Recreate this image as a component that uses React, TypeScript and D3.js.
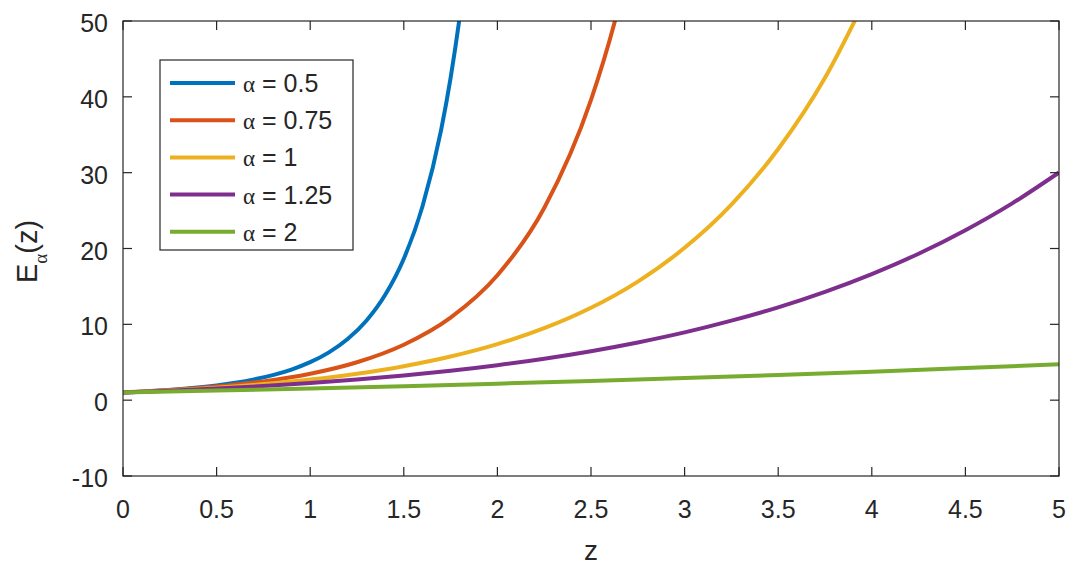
import { useEffect, useRef } from "react";
import * as d3 from "d3";

// Mittag-Leffler curves, values
const zHalf = [0, 0.1, 0.2, 0.3, 0.4, 0.5, 0.6, 0.7, 0.8, 0.9, 1.0, 1.1, 1.2, 1.3, 1.4, 1.5, 1.6, 1.7, 1.75, 1.8, 1.85];
const eHalf = [1, 1.124, 1.273, 1.454, 1.676, 1.952, 2.299, 2.739, 3.304, 4.039, 5.009, 6.305, 8.063, 10.48, 13.86, 18.65, 25.57, 35.7, 42.5, 50.8, 61.0];

const zQuarter = [0, 0.25, 0.5, 0.75, 1, 1.25, 1.5, 1.75, 2, 2.25, 2.5, 2.625, 2.75];
const eThreeQuarter = [1, 1.326, 1.794, 2.476, 3.486, 5.003, 7.31, 10.88, 16.47, 25.34, 39.6, 49.75, 62.8];

const zOne = [0, 0.25, 0.5, 0.75, 1, 1.25, 1.5, 1.75, 2, 2.25, 2.5, 2.75, 3, 3.25, 3.5, 3.75, 4];
const eOne = [1, 1.284, 1.649, 2.117, 2.718, 3.49, 4.482, 5.755, 7.389, 9.488, 12.18, 15.64, 20.09, 25.79, 33.12, 42.52, 54.6];

const zFull = [0, 0.25, 0.5, 0.75, 1, 1.25, 1.5, 1.75, 2, 2.25, 2.5, 2.75, 3, 3.25, 3.5, 3.75, 4, 4.25, 4.5, 4.75, 5];
const eOneQuarter = [1, 1.24, 1.525, 1.86, 2.253, 2.714, 3.254, 3.884, 4.617, 5.47, 6.46, 7.607, 8.934, 10.48, 12.24, 14.28, 16.62, 19.31, 22.41, 25.95, 30.02];

const zHalfStep = [0, 0.5, 1, 1.5, 2, 2.5, 3, 3.5, 4, 4.5, 5];
const eTwo = [1, 1.261, 1.543, 1.849, 2.178, 2.533, 2.915, 3.324, 3.762, 4.231, 4.731];

const seriesLabels = ["0.5", "0.75", "1", "1.25", "2"];
const seriesColors = ["#0072BD", "#D95319", "#EDB120", "#7E2F8E", "#77AC30"];

const xTicks = [0, 0.5, 1, 1.5, 2, 2.5, 3, 3.5, 4, 4.5, 5];
const yTicks = [-10, 0, 10, 20, 30, 40, 50];

export default function App() {
  const svgRef = useRef<SVGSVGElement>(null);

  useEffect(() => {
    const width = 1072;
    const height = 567;
    const margin = { top: 21, right: 13, bottom: 91, left: 123 };
    const font = "'Liberation Sans', Arial, sans-serif";
    const ink = "#262626";

    const svg = d3.select(svgRef.current)
      .attr("width", width)
      .attr("height", height)
      .style("background", "#ffffff");

    svg.selectAll("*").remove();

    const x = d3.scaleLinear().domain([0, 5]).range([margin.left, width - margin.right]);
    const y = d3.scaleLinear().domain([-10, 50]).range([height - margin.bottom, margin.top]);

    svg.append("defs").append("clipPath").attr("id", "plot-clip")
      .append("rect")
      .attr("x", x(0)).attr("y", y(50))
      .attr("width", x(5) - x(0)).attr("height", y(-10) - y(50));

    const series = [
      { z: zHalf, e: eHalf },
      { z: zQuarter, e: eThreeQuarter },
      { z: zOne, e: eOne },
      { z: zFull, e: eOneQuarter },
      { z: zHalfStep, e: eTwo },
    ];

    const line = d3.line<[number, number]>()
      .x(d => x(d[0]))
      .y(d => y(d[1]))
      .curve(d3.curveMonotoneX);

    const lines = svg.append("g").attr("clip-path", "url(#plot-clip)");
    series.forEach((s, i) => {
      const pts = s.z.map((z, j) => [z, s.e[j]] as [number, number]);
      lines.append("path")
        .datum(pts)
        .attr("fill", "none")
        .attr("stroke", seriesColors[i])
        .attr("stroke-width", 4)
        .attr("stroke-linejoin", "round")
        .attr("d", line);
    });

    // axes box with inward ticks on all sides
    const tickLen = 9;
    const axisG = svg.append("g").attr("fill", "none").attr("stroke", ink).attr("stroke-width", 1.2);
    axisG.append("rect")
      .attr("x", x(0)).attr("y", y(50))
      .attr("width", x(5) - x(0)).attr("height", y(-10) - y(50));

    xTicks.forEach(t => {
      axisG.append("line").attr("x1", x(t)).attr("x2", x(t)).attr("y1", y(-10)).attr("y2", y(-10) - tickLen);
      axisG.append("line").attr("x1", x(t)).attr("x2", x(t)).attr("y1", y(50)).attr("y2", y(50) + tickLen);
    });
    yTicks.forEach(t => {
      axisG.append("line").attr("x1", x(0)).attr("x2", x(0) + tickLen).attr("y1", y(t)).attr("y2", y(t));
      axisG.append("line").attr("x1", x(5)).attr("x2", x(5) - tickLen).attr("y1", y(t)).attr("y2", y(t));
    });

    svg.append("g").selectAll("text").data(xTicks).join("text")
      .attr("x", d => x(d))
      .attr("y", y(-10) + 42)
      .attr("text-anchor", "middle")
      .attr("font-family", font)
      .attr("font-size", 25)
      .attr("fill", ink)
      .text(d => String(d));

    svg.append("g").selectAll("text").data(yTicks).join("text")
      .attr("x", x(0) - 15)
      .attr("y", d => y(d) + 11)
      .attr("text-anchor", "end")
      .attr("font-family", font)
      .attr("font-size", 25)
      .attr("fill", ink)
      .text(d => String(d));

    // axis labels
    svg.append("text")
      .attr("x", (x(0) + x(5)) / 2)
      .attr("y", 560)
      .attr("text-anchor", "middle")
      .attr("font-family", font)
      .attr("font-size", 28)
      .attr("fill", ink)
      .text("z");

    const yl = svg.append("text")
      .attr("transform", `translate(37, ${(y(-10) + y(50)) / 2 + 3}) rotate(-90)`)
      .attr("text-anchor", "middle")
      .attr("font-family", font)
      .attr("font-size", 29)
      .attr("fill", ink);
    yl.append("tspan").text("E");
    yl.append("tspan").attr("font-family", "'Liberation Serif', serif").attr("font-size", 19).attr("dy", 10).text("α");
    yl.append("tspan").attr("dy", -10).text("(z)");

    // legend
    const lg = svg.append("g");
    lg.append("rect")
      .attr("x", 160).attr("y", 60).attr("width", 193).attr("height", 190)
      .attr("fill", "#ffffff").attr("stroke", ink).attr("stroke-width", 1.2);
    seriesLabels.forEach((lab, i) => {
      const ry = 83 + i * 37.2;
      lg.append("line")
        .attr("x1", 170).attr("x2", 235).attr("y1", ry).attr("y2", ry)
        .attr("stroke", seriesColors[i]).attr("stroke-width", 4);
      const t = lg.append("text")
        .attr("x", 243).attr("y", ry + 9)
        .attr("font-family", font)
        .attr("font-size", 25)
        .attr("fill", ink);
      t.append("tspan").attr("font-family", "'Liberation Serif', serif").attr("font-size", 23).text("α");
      t.append("tspan").text(" = " + lab);
    });
  }, []);

  return <svg ref={svgRef} style={{ position: "absolute", left: 0, top: 0 }}></svg>;
}
